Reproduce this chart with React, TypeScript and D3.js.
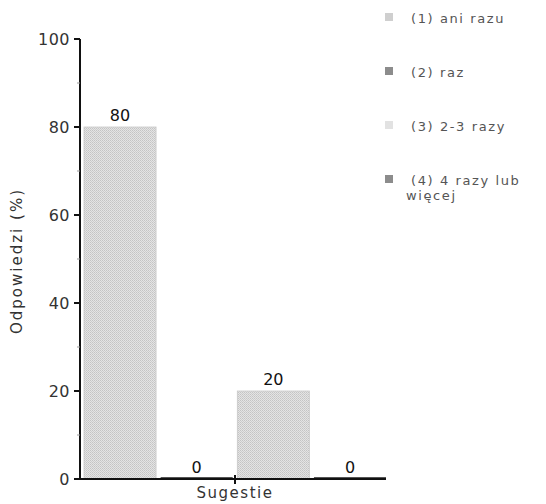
import React from 'react';
import * as d3 from 'd3';

const categories = ['Sugestie'];
const seriesLabels = ['(1) ani razu', '(2) raz', '(3) 2-3 razy', '(4) 4 razy lub więcej'];
const seriesValues = [80, 0, 20, 0];
const swatchColors = ['#cfcfcf', '#8c8c8c', '#e2e2e2', '#8c8c8c'];
const yTicks = [0, 20, 40, 60, 80, 100];
const yMinorTicks = [10, 30, 50, 70, 90];

const W = 546;
const H = 504;
const FONT = '"DejaVu Sans", Verdana, sans-serif';

export default function App() {
    const y = d3.scaleLinear().domain([0, 100]).range([479, 39]);
    const x0 = d3.scaleBand<string>().domain(categories).range([84, 386]).padding(0);
    const x1 = d3
        .scaleBand<number>()
        .domain(seriesValues.map((_, i) => i))
        .range([0, x0.bandwidth()])
        .paddingInner(0.06);
    const axisX = 80;
    const y0 = y(0);

    return (
        <svg
            width={W}
            height={H}
            style={{ position: 'absolute', left: 0, top: 0, background: '#fff' }}
            fontFamily={FONT}
        >
            <defs>
                <pattern id="dots" width={2} height={2} patternUnits="userSpaceOnUse">
                    <rect width={2} height={2} fill="#e4e4e4" />
                    <rect width={1} height={1} fill="#c4c4c4" />
                    <rect x={1} y={1} width={1} height={1} fill="#cdcdcd" />
                </pattern>
            </defs>

            {/* bars */}
            {categories.map((c) => (
                <g key={c} transform={`translate(${x0(c)},0)`}>
                    {seriesValues.map((v, i) => {
                        const bx = x1(i)!;
                        const bw = x1.bandwidth();
                        return (
                            <g key={i}>
                                {v > 0 ? (
                                    <rect
                                        x={bx}
                                        y={y(v)}
                                        width={bw}
                                        height={y0 - y(v)}
                                        fill="url(#dots)"
                                        stroke="#c8c8c8"
                                        strokeWidth={0.8}
                                    />
                                ) : (
                                    <line x1={bx} x2={bx + bw} y1={y0 - 1} y2={y0 - 1} stroke="#555" strokeWidth={2} />
                                )}
                                <text
                                    x={bx + bw / 2}
                                    y={y(v) - 6}
                                    textAnchor="middle"
                                    fontSize={16}
                                    fill="#111"
                                >
                                    {v}
                                </text>
                            </g>
                        );
                    })}
                </g>
            ))}

            {/* y axis */}
            <line x1={axisX} x2={axisX} y1={y(100)} y2={y0} stroke="#111" strokeWidth={2} />
            {yTicks.map((t) => (
                <g key={t}>
                    <line x1={axisX - 6} x2={axisX} y1={y(t)} y2={y(t)} stroke="#111" strokeWidth={2} />
                    <text
                        x={axisX - 10}
                        y={y(t)}
                        dy="0.36em"
                        textAnchor="end"
                        fontSize={16}
                        fill="#333"
                        letterSpacing={0.5}
                    >
                        {t}
                    </text>
                </g>
            ))}
            {yMinorTicks.map((t) => (
                <line key={t} x1={axisX - 3} x2={axisX} y1={y(t)} y2={y(t)} stroke="#999" strokeWidth={1} />
            ))}
            <text
                transform={`translate(22,${(y(100) + y0) / 2 + 2}) rotate(-90)`}
                textAnchor="middle"
                fontSize={15}
                fill="#333"
                letterSpacing={2}
            >
                Odpowiedzi (%)
            </text>

            {/* x axis */}
            <line x1={axisX} x2={386} y1={y0} y2={y0} stroke="#111" strokeWidth={2} />
            {categories.map((c) => {
                const cx = x0(c)! + x0.bandwidth() / 2;
                return (
                    <g key={c}>
                        <line x1={cx} x2={cx} y1={y0 - 4} y2={y0 + 5} stroke="#111" strokeWidth={2} />
                        <text x={cx} y={498} textAnchor="middle" fontSize={15} fill="#333" letterSpacing={1.5}>
                            {c}
                        </text>
                    </g>
                );
            })}

            {/* legend */}
            {seriesLabels.map((label, i) => {
                const ly = 18 + i * 54;
                const words = label === '(4) 4 razy lub więcej' ? ['(4) 4 razy lub', 'więcej'] : [label];
                return (
                    <g key={label}>
                        <rect x={385} y={ly - 5} width={8} height={8} fill={swatchColors[i]} />
                        {words.map((w, j) => (
                            <text
                                key={j}
                                x={j === 0 ? 411 : 406}
                                y={ly + 5 + j * 15}
                                fontSize={13}
                                fill="#555"
                                letterSpacing={1.6}
                            >
                                {w}
                            </text>
                        ))}
                    </g>
                );
            })}
        </svg>
    );
}
